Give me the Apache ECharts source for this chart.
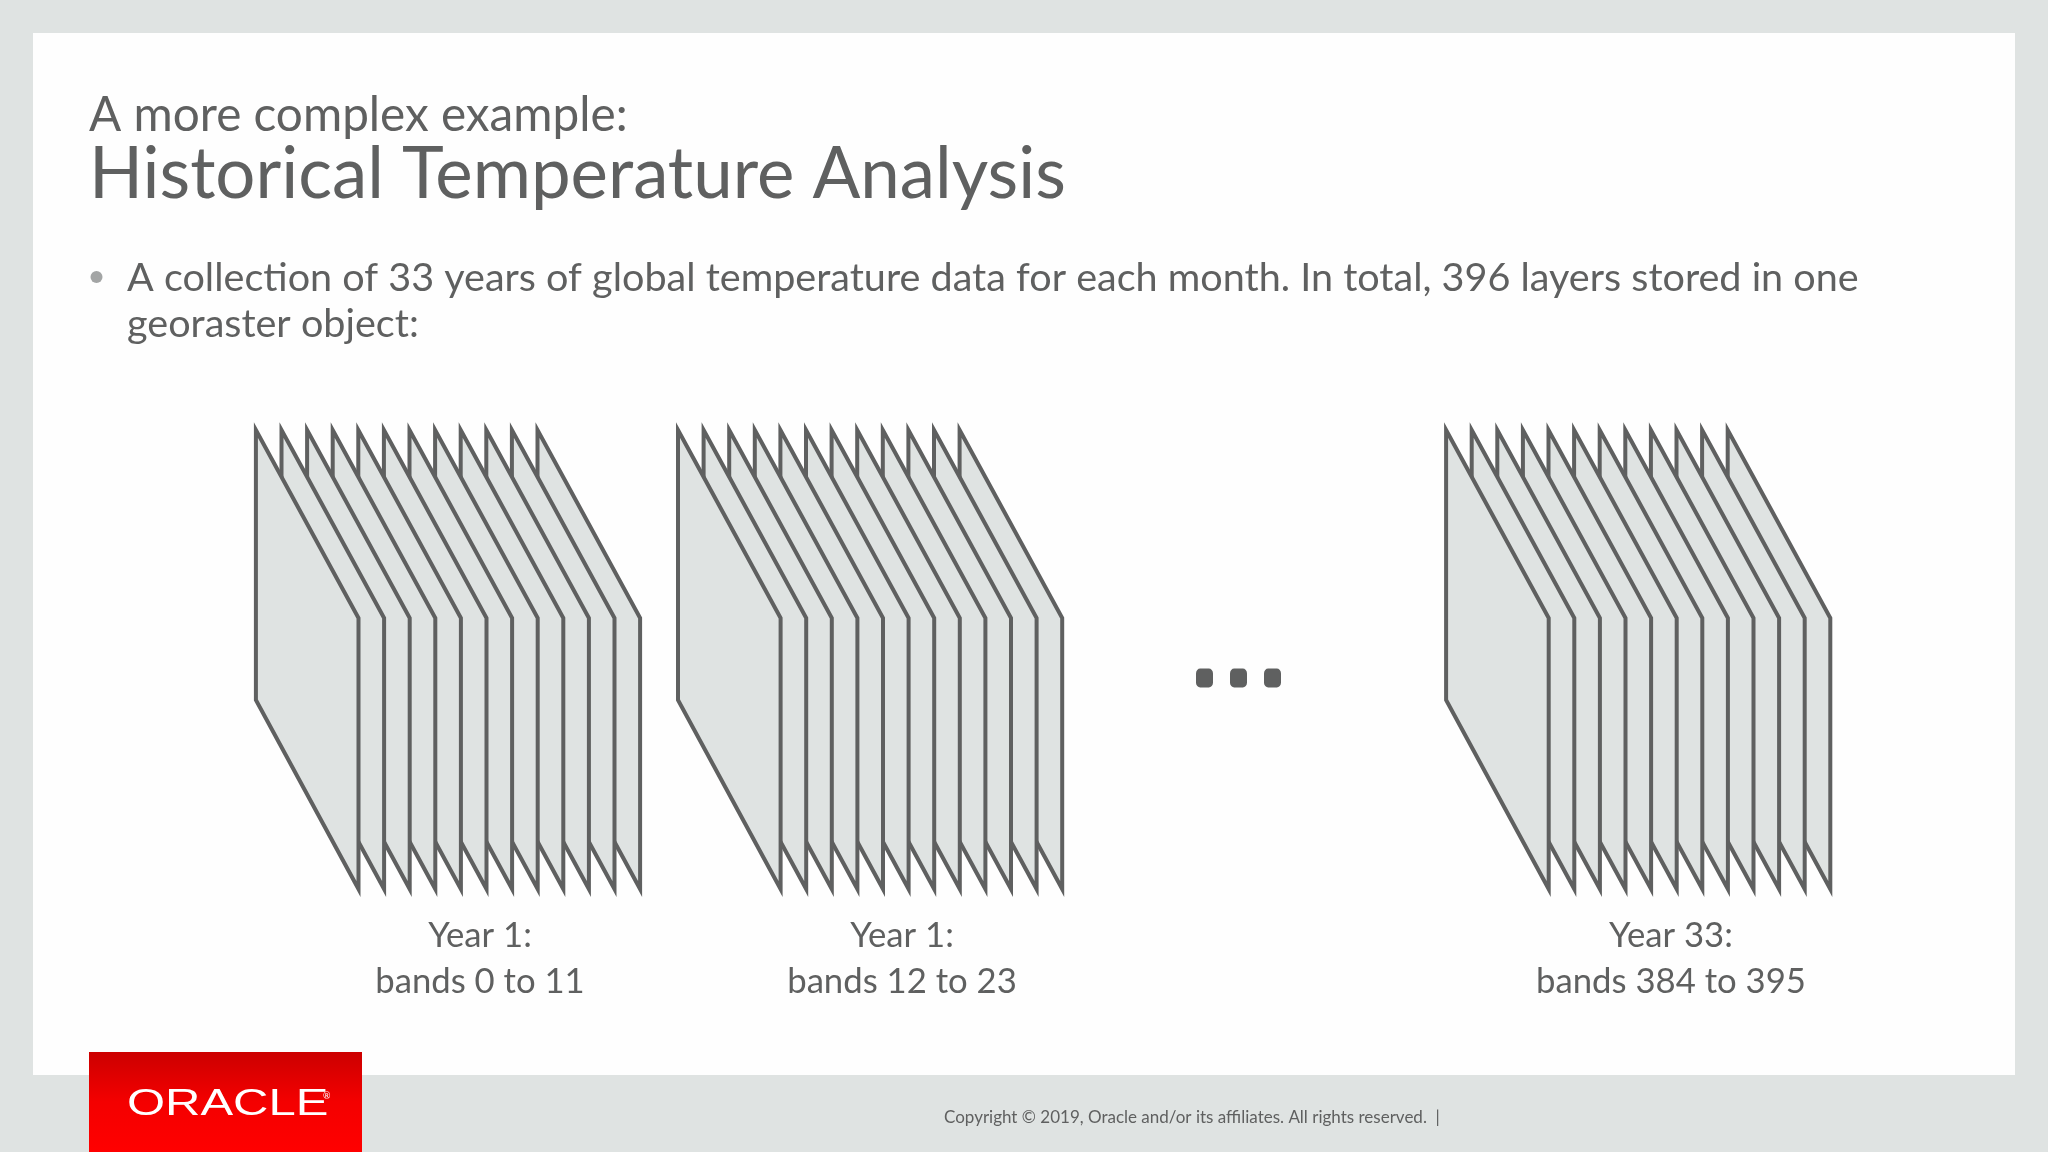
<!DOCTYPE html>
<html>
<head>
<meta charset="utf-8">
<title>Historical Temperature Analysis</title>
<script src="https://cdn.jsdelivr.net/npm/echarts@6/dist/echarts.min.js"></script>
<style>
html, body { margin: 0; padding: 0; background: #dfe3e2; }
#chart { width: 2048px; height: 1152px; }
</style>
</head>
<body>
<div id="chart"></div>
<script>
var yearStarts = [255.9, 678, 1446.1];
var sheetsPerYear = 12;
var sheetStep = 25.6;
var dotsX = [1204.5, 1238.5, 1272.5];
var dotsY = [678, 678, 678];
var yearLabels = ['Year 1:\nbands 0 to 11', 'Year 1:\nbands 12 to 23', 'Year 33:\nbands 384 to 395'];
var yearLabelX = [480, 902, 1671];

var textColor = '#5f6060';
var font = 'Lato';
var chart = echarts.init(document.getElementById('chart'));

// sheets are listed back to front so the first one of a year ends up on top
var sheets = [];
for (var g = 0; g < yearStarts.length; g++) {
    for (var i = sheetsPerYear - 1; i >= 0; i--) {
        sheets.push([yearStarts[g] + i * sheetStep]);
    }
}

function renderSheet(params, api) {
    var x = api.value(0);
    var pts = [[x, 430], [x + 102.6, 618], [x + 102.6, 889], [x, 700]];
    return {
        type: 'polygon',
        shape: { points: pts.map(function (p) { return api.coord(p); }) },
        style: { fill: '#dfe3e2', stroke: textColor, lineWidth: 4, lineJoin: 'miter', miterLimit: 10 }
    };
}

function text(x, y, str, size, extra) {
    var style = { text: str, x: x, y: y, fill: textColor, font: size + 'px ' + font };
    for (var k in extra) { style[k] = extra[k]; }
    return { type: 'text', z: 1, silent: true, style: style };
}

var graphics = [
    { type: 'rect', z: 0, shape: { x: 33, y: 33, width: 1982, height: 1042 }, style: { fill: '#fefefe' } },
    { type: 'rect', z: 1, shape: { x: 89, y: 1052, width: 273, height: 100 }, style: {
        fill: new echarts.graphic.LinearGradient(0, 0, 0, 1, [
            { offset: 0, color: '#cc0000' }, { offset: 0.5, color: '#f40000' }, { offset: 1, color: '#ff0000' }
        ])
    } },
    { type: 'circle', z: 1, shape: { cx: 96.5, cy: 277, r: 6 }, style: { fill: '#a3a5a5' } },
    text(89, 92, 'A more complex example:', 47.7),
    text(89, 139.5, 'Historical Temperature Analysis', 70.8),
    text(127, 258, 'A collection of 33 years of global temperature data for each month. In total, 396 layers stored in one', 39.55),
    text(127, 304, 'georaster object:', 39.55),
    text(944, 1109, 'Copyright \u00a9 2019, Oracle and/or its affiliates. All rights reserved.  |', 17),
    {
        type: 'text', z: 2, x: 127, y: 1087, scaleX: 1.36, silent: true,
        style: { text: 'ORACLE', x: 0, y: 0, fill: '#ffffff', font: '36px "Liberation Sans"' }
    },
    text(323, 1092, '\u00ae', 9, { fill: '#ffffff' })
];
yearLabels.forEach(function (s, i) {
    graphics.push(text(yearLabelX[i], 913, s, 34.7, { align: 'center', lineHeight: 46 }));
});

chart.setOption({
    animation: false,
    backgroundColor: '#dfe3e2',
    grid: { left: 0, right: 0, top: 0, bottom: 0 },
    xAxis: { type: 'value', min: 0, max: 2048, show: false },
    yAxis: { type: 'value', min: 0, max: 1152, inverse: true, show: false },
    graphic: graphics,
    series: [
        { type: 'custom', coordinateSystem: 'cartesian2d', renderItem: renderSheet, data: sheets, encode: { x: 0 }, clip: false, silent: true },
        {
            type: 'scatter', symbol: 'roundRect', symbolSize: [17, 19], silent: true,
            itemStyle: { color: textColor, opacity: 1 },
            data: dotsX.map(function (x, i) { return [x, dotsY[i]]; })
        }
    ]
});

window.onresize = function () {
    chart.resize();
};
</script>
</body>
</html>
